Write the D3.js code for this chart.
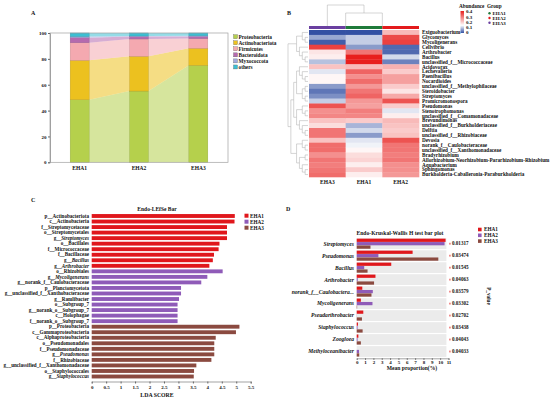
<!DOCTYPE html>
<html><head><meta charset="utf-8">
<script src="https://cdn.jsdelivr.net/npm/d3@7"></script>
<style>
body{margin:0;background:#fff}
svg{display:block}
text{font-family:"Liberation Serif","Times New Roman",serif;font-weight:bold;fill:#111}
</style>
</head><body><svg width="550" height="398"></svg>
<script>
// ---------- Panel A data ----------
const groups = ["EHA1","EHA2","EHA3"];
const phyla = ["Proteobacteria","Actinobacteriota","Firmicutes","Bacteroidota","Myxococcota","others"];
const proteobacteria = [48.4,55.1,75.0];
const actinobacteriota = [30.5,26.9,13.2];
const firmicutes = [13.6,13.4,7.5];
const bacteroidota = [3.9,1.8,1.6];
const myxococcota = [0.9,0.5,0.6];
const others = [2.7,2.3,2.1];
const yTicksA = [0,20,40,60,80,100];

// ---------- Panel B data ----------
const heatColumns = ["EHA3","EHA1","EHA2"];
const heatGenera = ["Exiguobacterium","Glycomyces","Mycoligenerans","Cellvibrio","Arthrobacter","Bacillus",
 "unclassified_f__Micrococcaceae","Acidovorax","Lechevalieria","Paenibacillus","Nocardioides",
 "unclassified_f__Methylophilaceae","Steroidobacter","Streptomyces","Promicromonospora","Pseudomonas",
 "Stenotrophomonas","unclassified_f__Comamonadaceae","Brevundimonas","unclassified_f__Burkholderiaceae",
 "Delftia","unclassified_f__Rhizobiaceae","Devosia","norank_f__Caulobacteraceae","unclassified_f__Xanthomonadaceae",
 "Bradyrhizobium","Allorhizobium-Neorhizobium-Pararhizobium-Rhizobium","Aquabacterium","Sphingomonas",
 "Burkholderia-Caballeronia-Paraburkholderia"];
const heatEHA3 = [0.00,0.07,0.01,0.36,0.17,0.16,0.09,0.21,0.12,0.15,0.15,0.06,0.03,0.05,0.10,0.34,0.27,0.28,0.21,0.18,0.30,0.30,0.21,0.31,0.31,0.27,0.30,0.29,0.30,0.31];
const heatEHA1 = [0.00,0.10,0.10,0.06,0.30,0.40,0.40,0.22,0.32,0.27,0.31,0.26,0.30,0.32,0.26,0.25,0.29,0.28,0.20,0.08,0.11,0.06,0.12,0.13,0.15,0.18,0.19,0.16,0.20,0.16];
const heatEHA2 = [0.22,0.35,0.36,0.02,0.02,0.11,0.04,0.23,0.20,0.25,0.25,0.20,0.17,0.24,0.34,0.20,0.12,0.16,0.22,0.21,0.20,0.21,0.34,0.30,0.30,0.29,0.30,0.27,0.27,0.26];
const abundanceTicks = [0,0.1,0.2,0.3,0.4];
const rowTree = [
  [[0,[1,2]],[3,[4,[5,6]]]],
  [[[[7,[8,[9,10]]],[[11,12],[13,14]]],[[15,[16,17]],[18,[19,[20,21]]]]],
   [[22,[23,24]],[[25,26],[27,[28,29]]]]]
];

// ---------- Panel C data ----------
const lefseLabels = ["p__Actinobacteriota","c__Actinobacteria","f__Streptomycetaceae","o__Streptomycetales","g__Streptomyces",
 "o__Bacillales","f__Micrococcaceae","f__Bacillaceae","g__Bacillus","g__Arthrobacter",
 "o__Rhizobiales","g__Mycoligenerans","g__norank_f__Caulobacteraceae","p__Planctomycetota","g__unclassified_f__Xanthobacteraceae",
 "g__Ramlibacter","o__Subgroup_7","g__norank_o__Subgroup_7","c__Holophagae","f__norank_o__Subgroup_7",
 "p__Proteobacteria","c__Gammaproteobacteria","c__Alphaproteobacteria","o__Pseudomonadales","f__Pseudomonadaceae",
 "g__Pseudomonas","f__Rhizobiaceae","g__unclassified_f__Xanthomonadaceae","o__Staphylococcales","g__Staphylococcus"];
const lefseScores = [4.95,4.94,4.68,4.68,4.68,4.42,4.39,4.23,4.19,4.07,
 4.53,4.00,3.79,3.09,3.09,3.02,2.97,2.97,2.97,2.97,
 5.11,4.99,4.29,4.24,4.24,4.24,4.14,3.62,3.54,3.53];
const lefseGroups = ["EHA1","EHA1","EHA1","EHA1","EHA1","EHA1","EHA1","EHA1","EHA1","EHA1",
 "EHA2","EHA2","EHA2","EHA2","EHA2","EHA2","EHA2","EHA2","EHA2","EHA2",
 "EHA3","EHA3","EHA3","EHA3","EHA3","EHA3","EHA3","EHA3","EHA3","EHA3"];
const lefseItalic = ["g__Streptomyces","g__Bacillus","g__Arthrobacter","g__Mycoligenerans","g__Pseudomonas","g__Staphylococcus"];
const ldaTicks = [0,0.5,1,1.5,2,2.5,3,3.5,4,4.5,5,5.5];

// ---------- Panel D data ----------
const kwGenera = ["Streptomyces","Pseudomonas","Bacillus","Arthrobacter","norank_f__Caulobactera...","Mycoligenerans",
 "Pseudarthrobacter","Staphylococcus","Zoogloea","Methyloceanibacter"];
const kwEHA1 = [10.65,6.70,4.14,2.25,0.67,0.50,0.79,0.15,0.20,0.00];
const kwEHA2 = [10.53,2.60,0.90,0.12,1.93,1.89,0.02,0.10,0.10,0.28];
const kwEHA3 = [1.65,9.78,1.30,2.08,1.77,0.05,0.63,0.71,0.50,0.30];
const kwPvalues = ["0.01317","0.03474","0.01545","0.04063","0.03579","0.03302","0.02702","0.03438","0.04043","0.04033"];
const meanTicks = [0,1,2,3,4,5,6,7,8,9,10,11];

const groupColors = {EHA1:"#e0171c", EHA2:"#8f5bb8", EHA3:"#8b4a40"};

const svg = d3.select("svg");
svg.append("rect").attr("width",550).attr("height",398).attr("fill","#fff");

function panelLabel(t,x,y){ svg.append("text").attr("x",x).attr("y",y).attr("font-size",6).text(t); }
panelLabel("A",31,15); panelLabel("B",287,15); panelLabel("C",31,202); panelLabel("D",286,211);

// ================= Panel A =================
(function(){
  const g = svg.append("g");
  const xA = d3.scaleBand().domain(groups).range([50,228]).paddingInner(0.68).paddingOuter(0.34);
  const yA = d3.scaleLinear().domain([0,100]).range([162.3,33]);
  const cols = [proteobacteria,actinobacteriota,firmicutes,bacteroidota,myxococcota,others];
  const rows = groups.map((gr,i)=>{ const o={group:gr}; phyla.forEach((p,k)=>o[p]=cols[k][i]); return o; });
  const stack = d3.stack().keys(phyla)(rows);
  const col = d3.scaleOrdinal().domain(phyla).range(["#b5d04c","#ecc11f","#f4a9b0","#b56aae","#a2aadf","#3cbfd3"]);
  const bw = xA.bandwidth();
  // flows
  const area = d3.area().x(d=>d.x).y0(d=>yA(d.y0)).y1(d=>yA(d.y1));
  stack.forEach(layer=>{
    for(let i=0;i<groups.length-1;i++){
      const a=layer[i], b=layer[i+1];
      g.append("path").attr("d",area([
        {x:xA(groups[i])+bw,y0:a[0],y1:a[1]},
        {x:xA(groups[i+1]),y0:b[0],y1:b[1]}
      ])).attr("fill",col(layer.key)).attr("fill-opacity",0.55);
    }
  });
  // bars
  stack.forEach(layer=>{
    g.selectAll(null).data(layer).enter().append("rect")
      .attr("x",d=>xA(d.data.group)).attr("width",bw)
      .attr("y",d=>yA(d[1])).attr("height",d=>yA(d[0])-yA(d[1]))
      .attr("fill",col(layer.key))
      .attr("stroke",d3.color(col(layer.key)).darker(0.6)).attr("stroke-width",0.4);
  });
  // frame
  g.append("rect").attr("x",50).attr("y",33).attr("width",178).attr("height",129.3)
    .attr("fill","none").attr("stroke","#a0a0a0").attr("stroke-width",0.7);
  const ax = g.append("g").attr("transform","translate(50,0)")
    .call(d3.axisLeft(yA).tickValues(yTicksA).tickSize(2).tickPadding(1.5));
  ax.select(".domain").attr("stroke","#a0a0a0");
  ax.selectAll("line").attr("stroke","#666");
  ax.selectAll("text").attr("font-size",5).attr("font-family","Liberation Serif").attr("font-weight","bold").attr("fill","#111");
  g.selectAll(null).data(groups).enter().append("text")
    .attr("x",d=>xA(d)+bw/2).attr("y",170).attr("text-anchor","middle").attr("font-size",5.5).text(d=>d);
  // legend
  const lg = g.selectAll(null).data(phyla).enter().append("g")
    .attr("transform",(d,i)=>`translate(233.5,${36.7+i*6.05})`);
  lg.append("rect").attr("x",0).attr("y",-2).attr("width",4).attr("height",4)
    .attr("fill",d=>col(d)).attr("stroke","#555").attr("stroke-width",0.3);
  lg.append("text").attr("x",5).attr("y",1.8).attr("font-size",5.3).text(d=>d);
})();

// ================= Panel B =================
(function(){
  const g = svg.append("g");
  const xB = d3.scaleBand().domain(heatColumns).range([309,419]);
  const yB = d3.scaleBand().domain(heatGenera).range([30,177]);
  const color = d3.scaleLinear().domain([0,0.14,0.4]).range(["#3350a3","#ffffff","#e81f1d"]);
  const colData = {EHA3:heatEHA3, EHA1:heatEHA1, EHA2:heatEHA2};
  const cells=[];
  heatColumns.forEach(c=>heatGenera.forEach((gn,i)=>cells.push({c,gn,v:colData[c][i]})));
  g.selectAll(null).data(cells).enter().append("rect")
    .attr("x",d=>xB(d.c)).attr("y",d=>yB(d.gn)).attr("width",xB.bandwidth()+0.3).attr("height",yB.bandwidth()+0.3)
    .attr("fill",d=>color(d.v));
  // group bar
  const gcol = {EHA3:"#6a3fa0",EHA1:"#1f7a3a",EHA2:"#e31a1c"};
  g.selectAll(null).data(heatColumns).enter().append("rect")
    .attr("x",d=>xB(d)).attr("y",26).attr("width",xB.bandwidth()).attr("height",3).attr("fill",d=>gcol[d]);
  // row labels
  g.selectAll(null).data(heatGenera).enter().append("text")
    .attr("x",422).attr("y",d=>yB(d)+yB.bandwidth()/2+1.8).attr("font-size",5.2).text(d=>d);
  // column labels
  g.selectAll(null).data(heatColumns).enter().append("text")
    .attr("x",d=>xB(d)+xB.bandwidth()/2).attr("y",184).attr("text-anchor","middle").attr("font-size",5.5).text(d=>d);
  // row dendrogram
  const root = d3.hierarchy(rowTree, d=>Array.isArray(d)?d:null);
  d3.cluster().size([147,20]).separation(()=>1)(root);
  const dg = g.append("g").attr("transform","translate(288,30)");
  root.descendants().forEach(n=>{
    if(!n.parent) return;
    dg.append("path").attr("d",`M${n.parent.y},${n.parent.x}V${n.x}H${n.y}`)
      .attr("fill","none").attr("stroke","#aaa").attr("stroke-width",0.5);
  });
  // column dendrogram (EHA3 | (EHA1, EHA2))
  const cx3 = xB("EHA3")+xB.bandwidth()/2, cx1 = xB("EHA1"), cx2 = xB("EHA2");
  const mid12 = (cx1+cx2)/2;
  const cd = g.append("g").attr("fill","none").attr("stroke","#aaa").attr("stroke-width",0.5);
  cd.append("path").attr("d",`M${cx1},26V13H${cx2}V26`);
  cd.append("path").attr("d",`M${cx3},26V5H${mid12}V13`);
  // abundance legend
  g.append("text").attr("x",459).attr("y",8).attr("font-size",5.2).text("Abundance");
  const defs = svg.append("defs");
  const grad = defs.append("linearGradient").attr("id","abg").attr("x1",0).attr("y1",1).attr("x2",0).attr("y2",0);
  [0,0.1,0.14,0.2,0.3,0.4].forEach(v=>grad.append("stop").attr("offset",v/0.4).attr("stop-color",color(v)));
  const ly = d3.scaleLinear().domain([0,0.4]).range([32.5,11.5]);
  g.append("rect").attr("x",460.5).attr("y",11).attr("width",3.5).attr("height",22).attr("fill","url(#abg)");
  g.selectAll(null).data(abundanceTicks).enter().append("text")
    .attr("x",466).attr("y",d=>ly(d)+1.8).attr("font-size",5).text(d=>d===0?"0":d.toFixed(1));
  // group legend
  g.append("text").attr("x",487).attr("y",8).attr("font-size",5.2).text("Group");
  const gl = g.selectAll(null).data(groups).enter().append("g").attr("transform",(d,i)=>`translate(489.5,${13.2+i*4.8})`);
  gl.append("circle").attr("r",1.2).attr("fill",d=>gcol[d]);
  gl.append("text").attr("x",3).attr("y",1.7).attr("font-size",5).text(d=>d);
})();

// ================= Panel C =================
(function(){
  const g = svg.append("g");
  const xC = d3.scaleLinear().domain([0,5.5]).range([91.7,250.7]);
  const yC = d3.scaleBand().domain(lefseLabels).range([213.5,379]).paddingInner(0.3).paddingOuter(0.1);
  g.append("text").attr("x",157).attr("y",210.5).attr("text-anchor","middle").attr("font-size",5.5).text("Endo-LEfSe Bar");
  g.selectAll(null).data(lefseLabels).enter().append("rect")
    .attr("x",xC(0)).attr("y",d=>yC(d)).attr("height",yC.bandwidth())
    .attr("width",(d,i)=>xC(lefseScores[i])-xC(0))
    .attr("fill",(d,i)=>groupColors[lefseGroups[i]]);
  const lab = g.selectAll(null).data(lefseLabels).enter().append("text")
    .attr("x",89).attr("y",d=>yC(d)+yC.bandwidth()/2+1.7).attr("text-anchor","end").attr("font-size",5.1);
  lab.each(function(d){
    const t = d3.select(this);
    if(lefseItalic.includes(d)){
      t.append("tspan").text(d.slice(0,3));
      t.append("tspan").attr("font-style","italic").text(d.slice(3));
    } else t.text(d);
  });
  const ax = g.append("g").attr("transform","translate(0,381.5)")
    .call(d3.axisBottom(xC).tickValues(ldaTicks).tickSize(2).tickPadding(1.5).tickFormat(d=>String(d)));
  ax.select(".domain").attr("stroke","#666").attr("stroke-width",0.6);
  ax.selectAll("line").attr("stroke","#666");
  ax.selectAll("text").attr("font-size",5).attr("font-family","Liberation Serif").attr("font-weight","bold").attr("fill","#111");
  g.append("text").attr("x",157).attr("y",396.5).attr("text-anchor","middle").attr("font-size",5.8).text("LDA SCORE");
  const lg = g.selectAll(null).data(groups).enter().append("g").attr("transform",(d,i)=>`translate(244.5,${215.7+i*6})`);
  lg.append("rect").attr("y",-2).attr("width",4).attr("height",4).attr("fill",d=>groupColors[d]);
  lg.append("text").attr("x",5.5).attr("y",1.8).attr("font-size",5.2).text(d=>d);
})();

// ================= Panel D =================
(function(){
  const g = svg.append("g");
  const xD = d3.scaleLinear().domain([0,11]).range([356.7,448.5]);
  const yD = d3.scaleBand().domain(kwGenera).range([237.7,357.5]).paddingInner(0.1).paddingOuter(0.05);
  const sub = d3.scaleBand().domain(groups).range([0,yD.bandwidth()]).paddingInner(0.05).paddingOuter(0.1);
  const vals = {EHA1:kwEHA1, EHA2:kwEHA2, EHA3:kwEHA3};
  g.append("text").attr("x",400).attr("y",234.5).attr("text-anchor","middle").attr("font-size",5.6).text("Endo-Kruskal-Wallis H test bar plot");
  g.selectAll(null).data(kwGenera).enter().append("rect")
    .attr("x",xD(0)).attr("y",d=>yD(d)).attr("width",xD(10.75)-xD(0)).attr("height",yD.bandwidth()).attr("fill","#ebebeb");
  groups.forEach(gr=>{
    g.selectAll(null).data(kwGenera).enter().append("rect")
      .attr("x",xD(0)).attr("y",d=>yD(d)+sub(gr)).attr("height",sub.bandwidth())
      .attr("width",(d,i)=>xD(vals[gr][i])-xD(0)).attr("fill",groupColors[gr]);
  });
  g.selectAll(null).data(kwGenera).enter().append("text")
    .attr("x",354).attr("y",d=>yD(d)+yD.bandwidth()/2+1.9).attr("text-anchor","end")
    .attr("font-size",5.6).attr("font-style","italic").text(d=>d);
  g.selectAll(null).data(kwGenera).enter().append("rect")
    .attr("x",449).attr("y",d=>yD(d)+yD.bandwidth()/2-0.9).attr("width",1.8).attr("height",1.8).attr("fill","#f08a8a");
  g.selectAll(null).data(kwGenera).enter().append("text")
    .attr("x",452).attr("y",d=>yD(d)+yD.bandwidth()/2+1.8).attr("font-size",5.1).text((d,i)=>kwPvalues[i]);
  const ax = g.append("g").attr("transform","translate(0,358.3)")
    .call(d3.axisBottom(xD).tickValues(meanTicks).tickSize(1.5).tickPadding(1));
  ax.select(".domain").attr("stroke","#666").attr("stroke-width",0.6);
  ax.selectAll("line").attr("stroke","#666");
  ax.selectAll("text").attr("font-size",5).attr("font-family","Liberation Serif").attr("font-weight","bold").attr("fill","#111");
  g.append("text").attr("x",412).attr("y",369.5).attr("text-anchor","middle").attr("font-size",5.6).text("Mean proportion(%)");
  g.append("text").attr("transform","translate(486.5,296) rotate(90)").attr("text-anchor","middle").attr("font-size",5.2).text("P_value");
  const lg = g.selectAll(null).data(groups).enter().append("g").attr("transform",(d,i)=>`translate(478,${229.5+i*5.8})`);
  lg.append("rect").attr("y",-1.8).attr("width",3.6).attr("height",3.6).attr("fill",d=>groupColors[d]);
  lg.append("text").attr("x",6).attr("y",1.8).attr("font-size",5.2).text(d=>d);
})();
</script>
</body></html>
